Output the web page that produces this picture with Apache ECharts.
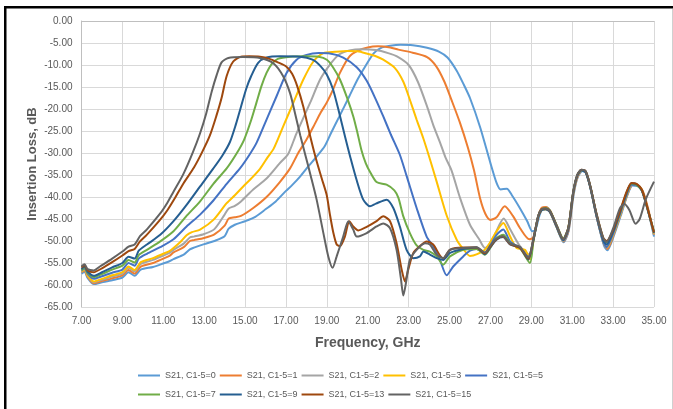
<!DOCTYPE html>
<html>
<head>
<meta charset="utf-8">
<script src="https://cdn.jsdelivr.net/npm/echarts@6/dist/echarts.min.js"></script>
<style>
  html, body { margin: 0; padding: 0; background: #ffffff; }
  #chart { width: 673px; height: 409px; }
</style>
</head>
<body>
<div id="chart"></div>
<script>
// S21 insertion loss sweeps, [frequency GHz, dB] per tuning state C1-5
const seriesNames = ['S21, C1-5=0', 'S21, C1-5=1', 'S21, C1-5=2', 'S21, C1-5=3', 'S21, C1-5=5',
                     'S21, C1-5=7', 'S21, C1-5=9', 'S21, C1-5=13', 'S21, C1-5=15'];
const seriesColors = ['#5b9bd5', '#ed7d31', '#a5a5a5', '#ffc000', '#4472c4',
                      '#70ad47', '#255e91', '#9e480e', '#636363'];

const s21_c0 = [[7.0,-57.4],[7.15,-57.0],[7.3,-58.4],[7.6,-59.8],[8.0,-59.4],[8.5,-58.9],[9.0,-58.3],[9.3,-57.1],[9.6,-57.9],[9.9,-56.5],[10.5,-55.9],[11.0,-55.1],[11.3,-54.6],[11.5,-54.1],[12.0,-53.1],[12.3,-51.9],[12.5,-51.5],[13.0,-50.7],[13.5,-50.0],[14.0,-48.9],[14.2,-47.2],[14.5,-46.3],[15.0,-45.5],[15.5,-44.5],[16.0,-42.8],[16.5,-41.0],[17.0,-38.6],[17.3,-37.3],[17.7,-35.3],[18.1,-33.0],[18.5,-30.8],[18.9,-28.4],[19.2,-25.5],[19.6,-21.8],[20.1,-17.1],[20.5,-13.3],[20.8,-10.9],[21.3,-7.3],[21.7,-6.0],[22.1,-5.6],[22.6,-5.4],[23.2,-5.5],[23.9,-6.1],[24.5,-7.0],[24.9,-8.3],[25.35,-11.3],[25.7,-14.5],[26.0,-17.5],[26.5,-24.2],[27.0,-32.3],[27.3,-36.8],[27.5,-38.3],[27.8,-38.1],[28.05,-39.6],[28.45,-42.6],[28.8,-45.5],[29.05,-47.8],[29.2,-47.5],[29.4,-44.2],[29.55,-42.6],[29.75,-42.4],[29.95,-43.4],[30.25,-47.0],[30.58,-50.3],[30.82,-47.8],[31.07,-39.5],[31.27,-35.5],[31.5,-34.1],[31.7,-34.6],[31.9,-37.8],[32.22,-45.0],[32.55,-51.0],[32.72,-52.1],[33.05,-48.6],[33.37,-44.3],[33.7,-39.6],[33.95,-37.4],[34.2,-37.5],[34.45,-38.9],[34.7,-42.8],[35.0,-49.0]];

const s21_c1 = [[7.0,-57.1],[7.15,-56.7],[7.3,-58.1],[7.6,-59.6],[8.0,-59.1],[8.5,-58.5],[9.0,-57.8],[9.3,-56.6],[9.6,-57.4],[9.9,-55.8],[10.5,-55.0],[11.0,-54.0],[11.3,-53.4],[11.5,-52.6],[12.0,-51.4],[12.3,-50.0],[12.5,-49.8],[13.0,-49.3],[13.5,-48.5],[14.0,-46.5],[14.2,-44.9],[14.5,-44.6],[14.8,-44.3],[15.4,-42.5],[16.05,-40.0],[16.7,-36.6],[17.2,-33.5],[17.6,-30.0],[18.0,-27.0],[18.4,-23.5],[18.7,-20.8],[19.0,-18.5],[19.3,-15.6],[19.64,-11.8],[20.1,-8.1],[20.5,-6.8],[21.0,-6.0],[21.5,-5.75],[22.1,-6.0],[22.5,-6.5],[23.2,-7.2],[23.9,-8.2],[24.35,-10.3],[24.75,-13.8],[25.1,-18.0],[25.5,-23.0],[25.9,-28.8],[26.2,-34.0],[26.5,-40.4],[26.75,-43.8],[27.0,-45.2],[27.3,-44.6],[27.7,-42.1],[28.1,-44.3],[28.45,-47.1],[28.9,-49.6],[29.1,-49.2],[29.35,-44.2],[29.52,-42.4],[29.72,-42.3],[29.93,-43.2],[30.25,-46.8],[30.57,-50.1],[30.82,-47.6],[31.06,-39.3],[31.27,-35.3],[31.48,-34.0],[31.68,-34.4],[31.89,-37.7],[32.2,-44.6],[32.55,-50.6],[32.72,-51.8],[33.04,-48.4],[33.36,-44.1],[33.7,-39.4],[33.95,-37.2],[34.2,-37.3],[34.45,-38.6],[34.7,-42.4],[35.0,-48.6]];

const s21_c2 = [[7.0,-57.0],[7.15,-56.5],[7.3,-57.9],[7.6,-59.4],[8.0,-58.8],[8.5,-58.1],[9.0,-57.4],[9.3,-56.1],[9.6,-56.9],[9.9,-55.2],[10.5,-54.3],[11.0,-53.3],[11.3,-52.7],[11.5,-52.0],[12.0,-50.6],[12.3,-49.2],[12.5,-49.0],[13.0,-48.4],[13.5,-47.3],[14.0,-44.0],[14.2,-42.6],[14.5,-42.0],[14.8,-41.0],[15.4,-38.3],[16.05,-35.8],[16.7,-32.3],[17.1,-30.3],[17.5,-25.7],[17.85,-22.0],[18.2,-18.4],[18.67,-13.3],[19.15,-9.9],[19.6,-7.6],[20.1,-6.7],[20.7,-6.4],[21.4,-6.6],[22.0,-7.3],[22.45,-8.1],[23.0,-10.0],[23.45,-13.8],[23.9,-19.4],[24.2,-23.6],[24.55,-27.8],[24.8,-31.0],[25.1,-34.0],[25.5,-40.0],[26.0,-46.3],[26.45,-49.6],[26.73,-51.6],[27.0,-50.5],[27.25,-48.2],[27.65,-44.9],[27.95,-47.2],[28.45,-51.2],[28.93,-53.2],[29.1,-50.0],[29.33,-44.6],[29.5,-43.0],[29.7,-42.8],[29.9,-43.4],[30.23,-46.8],[30.56,-50.0],[30.8,-47.5],[31.05,-39.2],[31.25,-35.3],[31.46,-34.0],[31.66,-34.4],[31.88,-37.7],[32.2,-44.5],[32.53,-50.4],[32.7,-51.5],[33.02,-48.3],[33.35,-44.1],[33.68,-39.5],[33.92,-37.2],[34.18,-37.3],[34.42,-38.6],[34.66,-42.3],[35.0,-48.5]];

const s21_c3 = [[7.0,-56.9],[7.15,-56.4],[7.3,-57.8],[7.6,-59.2],[8.0,-58.6],[8.5,-57.8],[9.0,-57.1],[9.3,-55.8],[9.6,-56.6],[9.9,-54.8],[10.5,-53.9],[11.0,-52.9],[11.3,-52.3],[11.5,-51.6],[11.82,-50.3],[12.14,-48.7],[12.4,-48.0],[12.8,-47.4],[13.45,-45.2],[14.1,-41.4],[14.5,-39.6],[14.91,-37.6],[15.3,-35.8],[15.73,-33.6],[16.1,-31.0],[16.4,-29.0],[16.87,-23.9],[17.36,-18.6],[17.85,-13.3],[18.34,-9.2],[18.83,-7.3],[19.4,-7.0],[20.0,-6.8],[20.5,-6.9],[20.95,-7.4],[21.4,-8.0],[21.76,-8.8],[22.33,-10.7],[22.74,-13.8],[23.06,-17.9],[23.39,-22.4],[23.72,-26.7],[24.0,-30.8],[24.37,-36.5],[24.86,-44.2],[25.35,-49.7],[25.7,-52.0],[26.0,-53.4],[26.35,-53.0],[26.73,-52.0],[27.0,-50.2],[27.3,-47.8],[27.63,-45.9],[27.96,-48.9],[28.28,-51.6],[28.69,-52.0],[28.93,-54.2],[29.1,-50.0],[29.33,-44.6],[29.5,-43.0],[29.7,-42.8],[29.9,-43.3],[30.23,-46.7],[30.56,-49.9],[30.8,-47.4],[31.05,-39.1],[31.25,-35.2],[31.46,-34.0],[31.66,-34.3],[31.88,-37.6],[32.2,-44.4],[32.53,-50.3],[32.7,-51.4],[33.02,-48.2],[33.35,-44.0],[33.68,-39.4],[33.92,-37.1],[34.18,-37.2],[34.42,-38.5],[34.66,-42.2],[35.0,-48.3]];

const s21_c5 = [[7.0,-56.7],[7.15,-56.2],[7.3,-57.4],[7.6,-58.6],[8.0,-58.0],[8.5,-57.2],[9.0,-56.5],[9.3,-55.0],[9.6,-55.6],[9.8,-54.0],[10.2,-52.9],[10.85,-51.4],[11.5,-49.6],[12.14,-46.7],[12.8,-44.0],[13.45,-40.8],[14.1,-37.0],[14.75,-33.5],[15.2,-30.5],[15.56,-27.7],[16.05,-22.4],[16.54,-17.1],[17.03,-11.8],[17.52,-8.8],[18.01,-7.7],[18.6,-7.3],[19.15,-7.4],[19.8,-8.3],[20.46,-10.5],[20.95,-13.6],[21.43,-18.2],[21.76,-21.7],[22.13,-25.8],[22.57,-30.4],[22.9,-35.2],[23.39,-42.5],[23.88,-49.0],[24.2,-51.2],[24.53,-54.3],[24.86,-57.8],[25.18,-55.8],[25.67,-53.5],[26.0,-52.2],[26.32,-51.8],[26.73,-52.7],[27.0,-51.0],[27.3,-48.6],[27.63,-47.4],[27.96,-50.1],[28.44,-51.6],[28.85,-53.6],[29.1,-49.8],[29.34,-44.4],[29.5,-42.9],[29.7,-42.7],[29.91,-43.3],[30.24,-46.7],[30.56,-49.9],[30.81,-47.4],[31.05,-39.1],[31.25,-35.2],[31.45,-34.0],[31.65,-34.4],[31.87,-37.6],[32.19,-44.4],[32.52,-50.2],[32.68,-51.4],[33.01,-48.2],[33.33,-44.0],[33.66,-39.5],[33.9,-37.2],[34.15,-37.3],[34.4,-38.5],[34.64,-42.1],[35.0,-48.0]];

const s21_c7 = [[7.0,-56.6],[7.15,-56.0],[7.3,-57.2],[7.6,-58.2],[8.0,-57.5],[8.5,-56.5],[9.0,-55.6],[9.3,-54.3],[9.6,-54.9],[9.8,-53.2],[10.2,-52.0],[10.85,-50.1],[11.5,-47.8],[12.1,-44.5],[12.8,-41.0],[13.45,-37.0],[14.1,-33.5],[14.6,-30.0],[14.95,-27.0],[15.3,-22.5],[15.56,-18.5],[15.8,-14.8],[16.05,-11.8],[16.3,-9.8],[16.6,-8.6],[17.2,-8.1],[18.0,-8.0],[18.6,-8.1],[19.0,-8.8],[19.3,-10.5],[19.64,-13.3],[20.0,-17.6],[20.3,-21.8],[20.5,-25.5],[20.7,-29.5],[20.9,-32.3],[21.1,-34.2],[21.43,-36.6],[21.92,-37.2],[22.3,-38.5],[22.5,-40.2],[22.74,-44.4],[23.06,-48.2],[23.39,-51.0],[23.72,-52.0],[24.04,-52.4],[24.37,-53.5],[24.69,-55.4],[25.02,-53.5],[25.67,-52.0],[26.32,-51.8],[26.73,-53.1],[27.0,-51.5],[27.3,-49.3],[27.63,-48.6],[27.96,-50.5],[28.44,-51.6],[28.93,-55.0],[29.1,-50.0],[29.34,-44.3],[29.5,-42.8],[29.7,-42.5],[29.91,-43.1],[30.24,-46.4],[30.56,-49.4],[30.81,-47.0],[31.05,-38.9],[31.25,-35.0],[31.45,-33.9],[31.65,-34.2],[31.87,-37.4],[32.19,-44.0],[32.52,-49.4],[32.68,-50.3],[33.01,-47.6],[33.33,-43.5],[33.66,-39.0],[33.9,-37.0],[34.15,-37.3],[34.4,-38.5],[34.64,-42.0],[35.0,-47.8]];

const s21_c9 = [[7.0,-56.4],[7.15,-55.8],[7.3,-57.0],[7.6,-57.9],[8.0,-57.1],[8.5,-56.0],[9.0,-55.0],[9.3,-53.6],[9.6,-54.0],[9.8,-52.2],[10.2,-50.8],[10.85,-48.6],[11.5,-45.5],[12.14,-41.8],[12.8,-37.6],[13.45,-33.5],[13.9,-30.5],[14.26,-27.5],[14.55,-23.5],[14.8,-19.5],[15.05,-15.5],[15.3,-12.5],[15.64,-9.5],[16.05,-8.3],[16.7,-8.0],[17.7,-8.1],[18.3,-8.8],[18.7,-10.3],[19.0,-12.2],[19.3,-15.5],[19.6,-20.8],[19.9,-26.5],[20.15,-31.0],[20.46,-36.2],[20.78,-40.6],[21.11,-42.1],[21.4,-41.5],[21.92,-40.6],[22.25,-42.5],[22.57,-46.7],[22.9,-52.0],[23.23,-53.9],[23.55,-53.5],[23.72,-52.4],[24.04,-53.1],[24.37,-53.9],[24.69,-54.3],[25.02,-52.7],[25.5,-52.0],[26.0,-51.6],[26.32,-51.5],[26.73,-53.0],[27.0,-51.4],[27.3,-49.7],[27.63,-49.1],[27.96,-50.8],[28.44,-51.5],[28.85,-54.2],[29.1,-49.9],[29.34,-44.5],[29.5,-43.0],[29.7,-42.8],[29.91,-43.4],[30.24,-46.8],[30.56,-49.8],[30.81,-47.2],[31.05,-39.0],[31.25,-35.1],[31.45,-33.9],[31.65,-34.3],[31.87,-37.5],[32.19,-44.2],[32.52,-49.9],[32.68,-50.8],[33.01,-47.8],[33.33,-43.6],[33.66,-39.1],[33.9,-36.9],[34.15,-37.1],[34.4,-38.4],[34.64,-41.9],[35.0,-48.2]];

const s21_c13 = [[7.0,-56.0],[7.15,-55.5],[7.3,-56.7],[7.6,-57.1],[8.0,-56.2],[8.5,-54.8],[9.0,-53.3],[9.3,-52.3],[9.6,-51.8],[9.86,-50.1],[10.19,-48.6],[10.84,-45.2],[11.2,-43.0],[11.6,-40.0],[12.0,-36.8],[12.5,-33.3],[12.9,-29.8],[13.28,-26.0],[13.6,-21.5],[13.85,-17.5],[14.1,-12.5],[14.42,-9.2],[14.8,-8.1],[15.2,-8.0],[15.73,-8.1],[16.2,-8.6],[16.6,-9.4],[17.0,-10.3],[17.3,-12.0],[17.55,-14.8],[17.85,-19.5],[18.15,-25.5],[18.45,-31.0],[18.75,-35.8],[18.99,-39.5],[19.15,-44.0],[19.32,-48.2],[19.48,-50.8],[19.64,-51.2],[19.88,-49.0],[20.1,-45.5],[20.29,-46.7],[20.54,-47.6],[20.95,-46.8],[21.43,-45.5],[21.76,-44.4],[22.09,-45.5],[22.41,-50.5],[22.66,-56.5],[22.82,-59.2],[22.98,-56.5],[23.23,-52.7],[23.55,-51.2],[23.88,-50.1],[24.2,-50.8],[24.53,-53.3],[24.69,-53.9],[25.02,-52.0],[25.67,-51.5],[26.32,-51.5],[26.73,-52.8],[27.0,-51.2],[27.3,-49.6],[27.6,-49.0],[27.96,-50.7],[28.44,-51.5],[28.85,-54.0],[29.1,-49.6],[29.34,-44.3],[29.5,-42.8],[29.7,-42.6],[29.91,-43.2],[30.24,-46.5],[30.56,-49.6],[30.81,-47.0],[31.05,-38.9],[31.25,-35.0],[31.45,-33.8],[31.65,-34.1],[31.87,-37.3],[32.19,-43.8],[32.52,-49.3],[32.68,-50.0],[33.01,-47.4],[33.33,-43.3],[33.66,-38.8],[33.9,-36.8],[34.15,-37.0],[34.4,-38.3],[34.64,-41.8],[35.0,-48.0]];

const s21_c15 = [[7.0,-55.8],[7.15,-55.3],[7.3,-56.4],[7.6,-56.7],[7.9,-55.8],[8.5,-54.0],[9.0,-52.4],[9.3,-51.3],[9.6,-50.8],[9.86,-48.9],[10.19,-47.4],[10.84,-43.8],[11.2,-41.3],[11.5,-38.8],[11.98,-34.8],[12.45,-29.8],[12.8,-25.5],[13.1,-21.0],[13.37,-16.0],[13.61,-12.3],[13.85,-9.4],[14.18,-8.4],[14.9,-8.2],[15.73,-8.4],[16.38,-9.6],[16.87,-12.6],[17.2,-16.4],[17.44,-20.9],[17.7,-26.0],[17.95,-30.5],[18.2,-35.0],[18.5,-40.6],[18.83,-48.2],[19.07,-53.5],[19.28,-56.1],[19.48,-53.5],[19.8,-49.0],[20.05,-45.5],[20.29,-47.4],[20.46,-49.0],[20.95,-48.2],[21.43,-46.7],[21.76,-46.0],[22.09,-47.1],[22.41,-52.0],[22.62,-58.5],[22.74,-62.4],[22.87,-59.5],[23.06,-54.3],[23.39,-52.0],[23.8,-50.5],[24.04,-50.8],[24.37,-53.1],[24.69,-53.9],[25.02,-52.0],[25.67,-51.6],[26.32,-51.4],[26.73,-52.6],[27.0,-51.0],[27.3,-49.5],[27.6,-48.9],[27.96,-50.6],[28.44,-51.3],[28.85,-53.8],[29.1,-49.5],[29.34,-44.2],[29.5,-42.8],[29.7,-42.6],[29.91,-43.2],[30.24,-46.5],[30.56,-49.6],[30.81,-47.0],[31.05,-38.8],[31.25,-34.9],[31.45,-33.8],[31.65,-34.1],[31.87,-37.3],[32.19,-43.9],[32.52,-49.4],[32.68,-50.2],[33.01,-47.0],[33.33,-42.6],[33.55,-41.6],[33.8,-43.0],[34.1,-46.1],[34.3,-45.0],[34.6,-40.5],[35.0,-36.5]];

const seriesData = [s21_c0, s21_c1, s21_c2, s21_c3, s21_c5, s21_c7, s21_c9, s21_c13, s21_c15];

// Frequency axis: 7 to 35 GHz, gridline every 2 GHz
const freqStart = 7, freqEnd = 35, freqStep = 2;
// Insertion loss axis: -65 to 0 dB, gridline every 5 dB
const lossMin = -65, lossMax = 0, lossStep = 5;

// The frequency axis is offset so that its ticks begin at 7.00
const toAxis = pts => pts.map(p => [p[0] - freqStart, p[1]]);

const labelColor = '#595959';
const fontFamily = "'Liberation Sans', 'DejaVu Sans', sans-serif";

const chart = echarts.init(document.getElementById('chart'), null, { renderer: 'canvas' });

const legendCommon = {
  icon: 'rect',
  itemWidth: 22,
  itemHeight: 2,
  itemGap: 4,
  textStyle: { color: labelColor, fontSize: 9, fontFamily: fontFamily, width: 52 },
  orient: 'horizontal',
  left: 133
};

chart.setOption({
  animation: false,
  backgroundColor: '#ffffff',
  grid: { left: 81.5, right: 19, top: 21, bottom: 102, containLabel: false },
  xAxis: {
    type: 'value',
    min: 0,
    max: freqEnd - freqStart,
    interval: freqStep,
    name: 'Frequency, GHz',
    nameLocation: 'middle',
    nameGap: 29,
    nameTextStyle: { color: labelColor, fontSize: 14, fontWeight: 'bold', fontFamily: fontFamily },
    axisLine: { show: true, lineStyle: { color: '#bfbfbf', width: 1 } },
    axisTick: { show: false },
    axisLabel: {
      color: labelColor, fontSize: 10, fontFamily: fontFamily, margin: 9,
      formatter: v => (v + freqStart).toFixed(2)
    },
    splitLine: { show: true, lineStyle: { color: '#d9d9d9', width: 1 } }
  },
  yAxis: {
    type: 'value',
    min: lossMin,
    max: lossMax,
    interval: lossStep,
    name: 'Insertion Loss, dB',
    nameLocation: 'middle',
    nameGap: 43,
    nameMoveOverlap: false,
    nameTextStyle: { color: labelColor, fontSize: 13, fontWeight: 'bold', fontFamily: fontFamily },
    axisLine: { show: true, lineStyle: { color: '#bfbfbf', width: 1 } },
    axisTick: { show: false },
    axisLabel: {
      color: labelColor, fontSize: 10, fontFamily: fontFamily, margin: 9,
      formatter: v => v.toFixed(2)
    },
    splitLine: { show: true, lineStyle: { color: '#d9d9d9', width: 1 } }
  },
  legend: [
    Object.assign({}, legendCommon, { top: 366, data: seriesNames.slice(0, 5) }),
    Object.assign({}, legendCommon, { top: 385, data: seriesNames.slice(5) })
  ],
  graphic: [
    // outer frame of the chart box
    { type: 'rect', shape: { x: 4, y: 6, width: 669, height: 2.5 }, style: { fill: '#000000' }, silent: true },
    { type: 'rect', shape: { x: 4, y: 6, width: 2.5, height: 403 }, style: { fill: '#000000' }, silent: true },
    { type: 'rect', shape: { x: 672, y: 9, width: 1, height: 400 }, style: { fill: '#d0d0d0' }, silent: true }
  ],
  series: seriesData.map((pts, i) => ({
    name: seriesNames[i],
    type: 'line',
    data: toAxis(pts),
    smooth: 0.25,
    showSymbol: false,
    symbol: 'none',
    clip: true,
    lineStyle: { color: seriesColors[i], width: 2 },
    itemStyle: { color: seriesColors[i] },
    emphasis: { disabled: true }
  }))
});
</script>
</body>
</html>
